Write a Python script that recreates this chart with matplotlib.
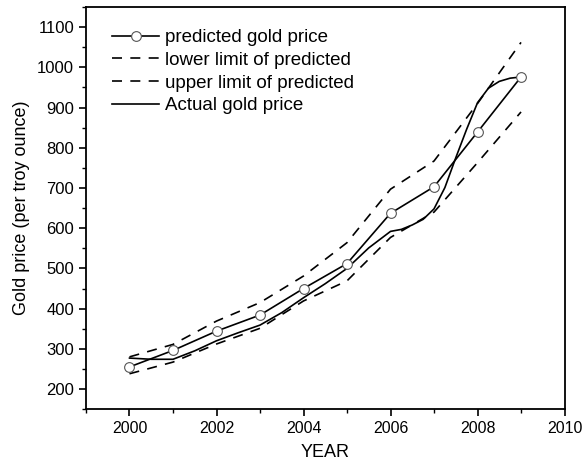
import matplotlib
matplotlib.use("Agg")
import matplotlib.pyplot as plt
from matplotlib.ticker import MultipleLocator

plt.rcParams["font.family"] = ["Liberation Sans", "DejaVu Sans"]

years = [2000, 2001, 2002, 2003, 2004, 2005, 2006, 2007, 2008, 2009]
predicted = [255, 296, 344, 384, 450, 512, 637, 703, 839, 976]
lower = [238, 267, 312, 351, 419, 469, 577, 640, 763, 889]
upper = [280, 311, 369, 415, 481, 564, 697, 767, 910, 1062]

# actual price curve, read at a finer step where it bends
actual_x = [2000, 2000.5, 2001, 2001.5, 2002, 2002.5, 2003, 2003.5, 2004, 2004.5,
            2005, 2005.5, 2006, 2006.25, 2006.5, 2006.75, 2007, 2007.25, 2007.5,
            2007.75, 2008, 2008.25, 2008.5, 2008.75, 2009]
actual_y = [277, 274, 274, 295, 320, 340, 359, 390, 427, 462,
            500, 551, 592, 597, 608, 622, 648, 701, 775,
            846, 912, 948, 965, 973, 976]

fig = plt.figure(figsize=(5.85, 4.66), dpi=100)
ax = fig.add_axes([0.147, 0.122, 0.818, 0.863])

lw = 1.2
ax.plot(years, predicted, color="black", lw=lw, marker="o", markersize=7,
        markerfacecolor="white", markeredgecolor="#555555", markeredgewidth=0.8,
        label="predicted gold price", zorder=3)
ax.plot(years, lower, color="black", lw=lw, linestyle=(0, (6, 5)),
        label="lower limit of predicted")
ax.plot(years, upper, color="black", lw=lw, linestyle=(0, (6, 5)),
        label="upper limit of predicted")
ax.plot(actual_x, actual_y, color="black", lw=lw, label="Actual gold price")

ax.set_xlim(1999, 2010)
ax.set_ylim(150, 1150)
ax.xaxis.set_major_locator(MultipleLocator(2))
ax.xaxis.set_minor_locator(MultipleLocator(1))
ax.yaxis.set_major_locator(MultipleLocator(100))
ax.yaxis.set_minor_locator(MultipleLocator(50))
ax.set_yticks(range(200, 1101, 100))
ax.tick_params(which="major", direction="out", length=5, width=1.2, labelsize=12)
ax.tick_params(axis="x", labelsize=11.5)
ax.tick_params(which="minor", direction="out", length=3, width=1.0)
for s in ax.spines.values():
    s.set_linewidth(1.3)

ax.set_xlabel("YEAR", fontsize=13, labelpad=6)
ax.set_ylabel("Gold price (per troy ounce)", fontsize=13, labelpad=5)

ax.legend(loc="upper left", frameon=False, fontsize=13.5, handlelength=2.5,
          handletextpad=0.3, labelspacing=0.3, borderaxespad=0, borderpad=0,
          bbox_to_anchor=(0.055, 0.945))

fig.savefig("out.png", dpi=100)
